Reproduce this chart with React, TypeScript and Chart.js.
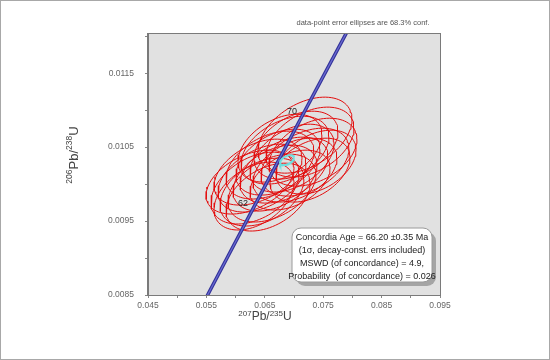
import React, { useEffect, useRef } from 'react';
import { Chart, registerables } from 'chart.js';
Chart.register(...registerables);

const X_MIN = 0.045;
const X_MAX = 0.095;
const Y_MIN = 0.0085;
const Y_MAX = 0.01203;

const X_TICKS = [0.045, 0.05, 0.055, 0.06, 0.065, 0.07, 0.075, 0.08, 0.085, 0.09, 0.095];
const X_TICK_LABELS = ['0.045', '', '0.055', '', '0.065', '', '0.075', '', '0.085', '', '0.095'];
const Y_TICKS = [0.0085, 0.009, 0.0095, 0.01, 0.0105, 0.011, 0.0115, 0.012];
const Y_TICK_LABELS = ['0.0085', '', '0.0095', '', '0.0105', '', '0.0115', ''];

// data-point error ellipses: centre, half-extent in x and y, correlation
const ELL_X = [0.07188, 0.07274, 0.07034, 0.07325, 0.07188, 0.06966, 0.06846, 0.06726, 0.07017, 0.07274, 0.06829, 0.06589, 0.06675, 0.06452, 0.06332, 0.06452, 0.06315, 0.06555, 0.06384, 0.06932, 0.0676, 0.07377, 0.06247, 0.06623];
const ELL_Y = [0.010662, 0.010568, 0.010527, 0.010432, 0.010297, 0.010351, 0.010459, 0.010297, 0.010189, 0.010189, 0.010189, 0.010257, 0.010081, 0.010081, 0.009946, 0.009892, 0.009838, 0.009824, 0.010162, 0.010054, 0.010486, 0.010297, 0.010027, 0.009946];
const ELL_SX = [0.00805, 0.00753, 0.00719, 0.00753, 0.00753, 0.00719, 0.00753, 0.00719, 0.00719, 0.00685, 0.00753, 0.00753, 0.00719, 0.00753, 0.00753, 0.00719, 0.00685, 0.00719, 0.00753, 0.00685, 0.00719, 0.00685, 0.00753, 0.00753];
const ELL_SY = [0.000514, 0.000473, 0.000459, 0.000459, 0.000459, 0.000459, 0.000459, 0.000446, 0.000432, 0.000432, 0.000446, 0.000459, 0.000446, 0.000459, 0.000486, 0.000459, 0.000459, 0.000459, 0.000446, 0.000405, 0.000459, 0.000432, 0.000432, 0.000459];
const ELL_RHO = [0.42, 0.4, 0.4, 0.38, 0.4, 0.42, 0.4, 0.4, 0.38, 0.4, 0.42, 0.4, 0.4, 0.42, 0.4, 0.38, 0.4, 0.4, 0.42, 0.4, 0.4, 0.38, 0.42, 0.4];

// concordia age ellipse
const MEAN_X = [0.0688];
const MEAN_Y = [0.010324];
const MEAN_SX = [0.0012];
const MEAN_SY = [0.0000676];
const MEAN_RHO = [0.5];

// concordia curve points (Ma, 207/235, 206/238)
const CONC_AGES = [54, 58, 62, 66, 70, 74, 78];
const CONC_X = [0.054621, 0.058784, 0.062964, 0.067159, 0.071371, 0.0756, 0.079846];
const CONC_Y = [0.008412, 0.009038, 0.009664, 0.010291, 0.010918, 0.011545, 0.012173];
const AGE_LABELS = [62, 70];

const NOTE = 'data-point error ellipses are 68.3% conf.';
const BOX_LINES = [
  'Concordia Age = 66.20 \u00b10.35 Ma',
  '(1\u03c3, decay-const. errs included)',
  'MSWD (of concordance) = 4.9,',
  'Probability  (of concordance) = 0.026',
];

function ellipsePts(cx: number, cy: number, sx: number, sy: number, rho: number, n = 90) {
  const pts: { x: number; y: number }[] = [];
  const s = Math.sqrt(1 - rho * rho);
  for (let i = 0; i <= n; i++) {
    const t = (2 * Math.PI * i) / n;
    pts.push({ x: cx + sx * Math.cos(t), y: cy + sy * (rho * Math.cos(t) + s * Math.sin(t)) });
  }
  return pts;
}

function drawSupText(ctx: CanvasRenderingContext2D, parts: [string, boolean][], cx: number, cy: number, big: number, small: number) {
  const fam = '"Liberation Sans", Arial, sans-serif';
  let w = 0;
  for (const [t, sup] of parts) {
    ctx.font = `${sup ? small : big}px ${fam}`;
    w += ctx.measureText(t).width;
  }
  let x = cx - w / 2;
  ctx.textBaseline = 'alphabetic';
  ctx.textAlign = 'left';
  const base = cy + big * 0.36;
  for (const [t, sup] of parts) {
    ctx.font = `${sup ? small : big}px ${fam}`;
    ctx.fillText(t, x, sup ? base - big * 0.4 : base);
    x += ctx.measureText(t).width;
  }
}

export default function App() {
  const ref = useRef<HTMLCanvasElement>(null);
  useEffect(() => {
    document.body.style.margin = '0';
    const canvas = ref.current!;
    const datasets: any[] = [];
    for (let i = 0; i < ELL_X.length; i++) {
      datasets.push({
        data: ellipsePts(ELL_X[i], ELL_Y[i], ELL_SX[i], ELL_SY[i], ELL_RHO[i]),
        showLine: true, pointRadius: 0, borderColor: '#e30d0d', borderWidth: 1, tension: 0, fill: false, order: 5,
      });
    }
    const conc = CONC_AGES.map((_, i) => ({ x: CONC_X[i], y: CONC_Y[i] }));
    datasets.push({ data: conc, showLine: true, pointRadius: 0, borderColor: '#33339a', borderWidth: 3.5, tension: 0, order: 3 });
    datasets.push({ data: conc, showLine: true, pointRadius: 0, borderColor: '#6a6ad0', borderWidth: 1.2, tension: 0, order: 2 });
    datasets.push({
      data: ellipsePts(MEAN_X[0], MEAN_Y[0], MEAN_SX[0], MEAN_SY[0], MEAN_RHO[0]),
      showLine: true, pointRadius: 0, borderColor: '#6fdede', borderWidth: 2, tension: 0, order: 1,
    });

    const deco = {
      id: 'deco',
      beforeDraw(chart: any) {
        const { ctx, chartArea: a } = chart;
        ctx.save();
        ctx.fillStyle = '#ffffff';
        ctx.fillRect(0, 0, chart.width, chart.height);
        ctx.fillStyle = '#e1e1e1';
        ctx.fillRect(a.left, a.top, a.right - a.left, a.bottom - a.top);
        ctx.restore();
      },
      afterDatasetsDraw(chart: any) {
        const { ctx, chartArea: a } = chart;
        const xs = chart.scales.x, ys = chart.scales.y;
        ctx.save();
        // age labels
        ctx.font = '9px "Liberation Sans", Arial, sans-serif';
        ctx.fillStyle = '#222';
        ctx.textAlign = 'center';
        ctx.textBaseline = 'middle';
        for (const age of AGE_LABELS) {
          const i = CONC_AGES.indexOf(age);
          const px = xs.getPixelForValue(CONC_X[i]);
          const py = ys.getPixelForValue(CONC_Y[i]);
          ctx.fillText(String(age), px - 10, py - 5);
        }
        // plot frame
        ctx.strokeStyle = '#7a7a7a';
        ctx.lineWidth = 1;
        ctx.strokeRect(a.left - 0.5, a.top - 0.5, a.right - a.left + 1, a.bottom - a.top + 1);
        // result box
        const bx = 292, by = 228, bw = 140, bh = 54, r = 9;
        const rr = (x: number, y: number) => {
          ctx.beginPath();
          ctx.roundRect(x, y, bw, bh, r);
        };
        ctx.fillStyle = '#a5a5a5';
        rr(bx + 4, by + 4);
        ctx.fill();
        ctx.fillStyle = '#ffffff';
        rr(bx, by);
        ctx.fill();
        ctx.strokeStyle = '#9a9a9a';
        ctx.stroke();
        ctx.fillStyle = '#222';
        ctx.font = '9px "Liberation Sans", Arial, sans-serif';
        ctx.textAlign = 'center';
        ctx.textBaseline = 'middle';
        BOX_LINES.forEach((t, k) => ctx.fillText(t, bx + bw / 2, by + 9.5 + k * 13));
        // note
        ctx.fillStyle = '#555';
        ctx.font = '7.5px "Liberation Sans", Arial, sans-serif';
        ctx.fillText(NOTE, 363, 23);
        // axis titles
        ctx.fillStyle = '#444';
        drawSupText(ctx, [['207', true], ['Pb/', false], ['235', true], ['U', false]], 265, 316, 12, 8);
        ctx.save();
        ctx.translate(73, 155);
        ctx.rotate(-Math.PI / 2);
        drawSupText(ctx, [['206', true], ['Pb/', false], ['238', true], ['U', false]], 0, 0, 13, 8.5);
        ctx.restore();
        // outer border
        ctx.strokeStyle = '#a8a8a8';
        ctx.strokeRect(0.5, 0.5, chart.width - 1, chart.height - 1);
        ctx.restore();
      },
    };

    const tickFont = { family: '"Liberation Sans", Arial, sans-serif', size: 8.5 };
    const chart = new Chart(canvas, {
      type: 'scatter',
      data: { datasets },
      options: {
        responsive: false,
        animation: false,
        events: [],
        layout: { padding: { left: 0, top: 34, right: 110, bottom: 0 } },
        plugins: { legend: { display: false }, tooltip: { enabled: false } },
        scales: {
          x: {
            type: 'linear', min: X_MIN, max: X_MAX,
            afterBuildTicks: (s: any) => { s.ticks = X_TICKS.map((v) => ({ value: v })); },
            afterFit: (s: any) => { s.height = 65; },
            ticks: { callback: (_v: any, i: number) => X_TICK_LABELS[i], font: tickFont, color: '#666', padding: 3, maxRotation: 0, autoSkip: false },
            grid: { drawOnChartArea: false, tickLength: 3, color: '#888' },
            border: { display: true, color: '#7a7a7a' },
          },
          y: {
            type: 'linear', min: Y_MIN, max: Y_MAX,
            afterBuildTicks: (s: any) => { s.ticks = Y_TICKS.map((v) => ({ value: v })); },
            afterFit: (s: any) => { s.width = 148; },
            ticks: { callback: (_v: any, i: number) => Y_TICK_LABELS[i], font: tickFont, color: '#666', padding: 11, autoSkip: false },
            grid: { drawOnChartArea: false, tickLength: 3, color: '#888' },
            border: { display: true, color: '#7a7a7a' },
          },
        },
      } as any,
      plugins: [deco],
    });
    return () => chart.destroy();
  }, []);
  return <canvas ref={ref} width={550} height={360} style={{ display: 'block' }} />;
}
